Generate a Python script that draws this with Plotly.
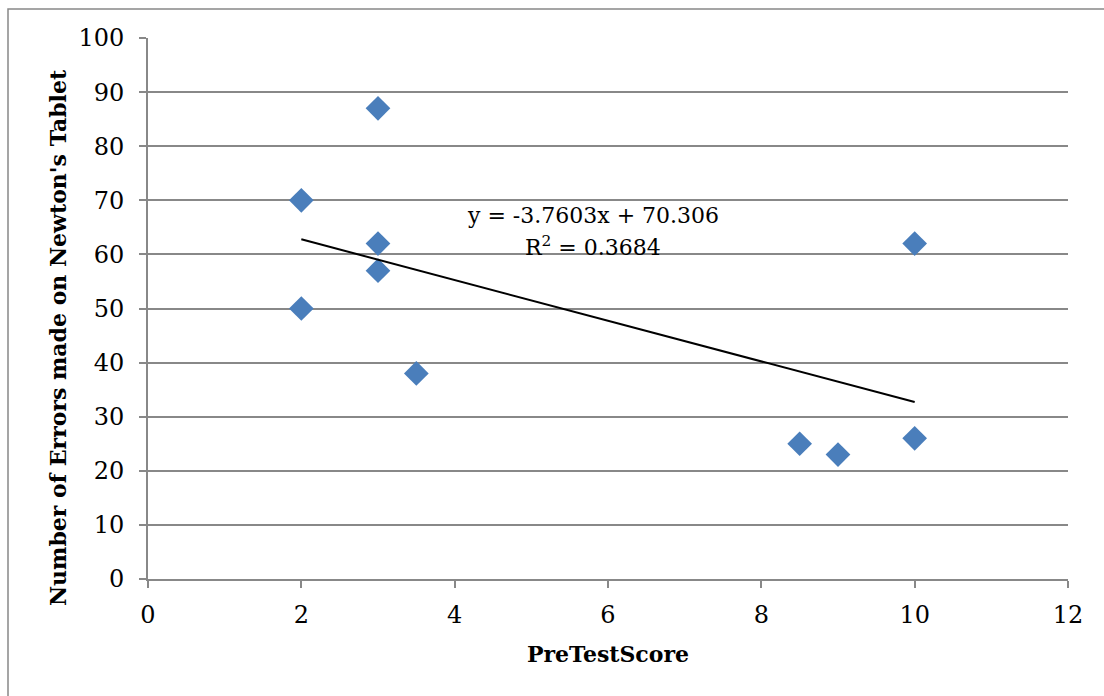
import plotly.graph_objects as go

pre_test_score = [2, 2, 3, 3, 3, 3.5, 8.5, 9, 10, 10]
errors = [70, 50, 87, 62, 57, 38, 25, 23, 62, 26]
slope = -3.7603
intercept = 70.306
trend_x = [2, 10]
trend_y = [slope * x + intercept for x in trend_x]
x_ticks = [0, 2, 4, 6, 8, 10, 12]
y_ticks = [0, 10, 20, 30, 40, 50, 60, 70, 80, 90, 100]

FONT = "DejaVu Serif"

fig = go.Figure()
fig.add_trace(go.Scatter(
    x=pre_test_score, y=errors, mode="markers",
    marker=dict(symbol="diamond", size=19, color="#4A7EBB",
                line=dict(width=0)),
    showlegend=False,
))
fig.add_trace(go.Scatter(
    x=trend_x, y=trend_y, mode="lines",
    line=dict(color="black", width=2), showlegend=False,
))

fig.add_annotation(
    x=5.8, y=64.6, xref="x", yref="y",
    text="y = -3.7603x + 70.306",
    showarrow=False, align="center", yanchor="bottom",
    font=dict(family=FONT, size=22, color="black"),
)
fig.add_annotation(
    x=5.8, y=64.6, xref="x", yref="y",
    text="R<sup>2</sup> = 0.3684",
    showarrow=False, align="center", yanchor="top",
    font=dict(family=FONT, size=22, color="black"),
)

# y-axis title placed as annotation to match its offset position
fig.add_annotation(
    x=(58 - 148) / 920, y=(579 - 338) / 541, xref="paper", yref="paper",
    text="<b>Number of Errors made on Newton's Tablet</b>",
    textangle=-90, showarrow=False, xanchor="center", yanchor="middle",
    font=dict(family=FONT, size=22, color="black"),
)

fig.add_shape(type="rect", xref="paper", yref="paper",
              x0=-140/920, x1=1.2, y0=-0.5, y1=1 + 29/541,
              line=dict(color="#888888", width=1.5), layer="below")

fig.update_layout(
    width=1104, height=696,
    margin=dict(l=148, r=36, t=38, b=117),
    paper_bgcolor="white", plot_bgcolor="white",
    font=dict(family=FONT, size=24, color="black"),
    xaxis=dict(
        range=[0, 12], tickvals=x_ticks, showgrid=False,
        showline=True, linecolor="#888888", linewidth=2,
        ticks="outside", ticklen=7, tickcolor="#888888", tickwidth=2,
        ticklabelstandoff=6,
        zeroline=False, tickfont=dict(size=24),
        title=dict(text="<b>PreTestScore</b>", font=dict(family=FONT, size=22), standoff=19),
    ),
    yaxis=dict(
        range=[0, 100], tickvals=y_ticks, showgrid=True,
        gridcolor="#888888", gridwidth=1.5,
        showline=True, linecolor="#888888", linewidth=2,
        ticks="outside", ticklen=7, tickcolor="#888888", tickwidth=2,
        ticklabelstandoff=10,
        zeroline=False, tickfont=dict(size=24),
    ),
)

fig.write_html("out.html")
